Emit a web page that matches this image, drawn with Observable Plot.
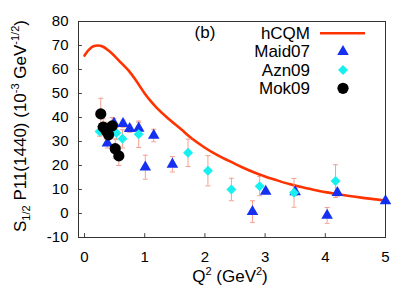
<!DOCTYPE html>
<html><head><meta charset="utf-8">
<script src="https://cdn.jsdelivr.net/npm/d3@7"></script>
<script src="https://cdn.jsdelivr.net/npm/@observablehq/plot@0.6"></script>
<style>body{margin:0;background:#fff} #chart{width:415px;height:291px}</style>
</head><body><div id="chart"></div>
<script>
// hCQM model curve
const hcqmQ2  = [0, 0.05, 0.1, 0.15, 0.22, 0.3, 0.4, 0.5, 0.6, 0.73, 0.85, 1.0, 1.1, 1.2, 1.4, 1.6, 1.8, 2.0, 2.2, 2.4, 2.6, 2.8, 3.0, 3.2, 3.4, 3.6, 3.8, 4.0, 4.2, 4.4, 4.6, 4.8, 5.0];
const hcqmVal = [65.8, 67.6, 68.9, 69.7, 70.0, 69.6, 67.9, 65.6, 63.0, 59.6, 55.6, 50.0, 46.8, 44.0, 39.4, 35.2, 30.9, 27.4, 24.4, 21.9, 19.5, 17.3, 15.4, 13.8, 12.3, 11.0, 9.9, 8.9, 8.1, 7.3, 6.6, 6.0, 5.4];
// Maid07
const maidQ2  = [0.38, 0.49, 0.64, 0.75, 0.90, 1.01, 1.15, 1.46, 2.79, 3.01, 3.50, 4.03, 4.20, 5.00];
const maidVal = [29.3, 37.5, 37.4, 35.3, 35.5, 19.3, 32.5, 20.5, 0.8, 9.2, 9.0, -0.8, 8.7, 5.2];
const maidErr = [2.0, 2.0, 1.5, 1.5, 2.5, 5.0, 2.6, 3.2, 4.5, 1.0, 1.5, 3.3, 1.5, 1.0];
// Azn09
const aznQ2  = [0.25, 0.40, 0.53, 0.63, 0.90, 1.72, 2.05, 2.44, 2.91, 3.48, 4.17];
const aznVal = [34.2, 35.0, 33.5, 31.1, 33.0, 25.3, 17.8, 10.0, 11.4, 8.6, 13.5];
const aznErr = [2.0, 2.5, 2.5, 3.8, 5.5, 5.7, 6.3, 4.7, 4.0, 6.0, 6.8];
// Mok09
const mokQ2  = [0.27, 0.31, 0.36, 0.40, 0.46, 0.51, 0.57];
const mokVal = [41.5, 36.0, 34.5, 32.8, 36.5, 27.0, 24.0];
const mokErr = [6.5, 3.5, 3.5, 3.5, 3.5, 4.0, 4.0];

const xTicks = [0, 1, 2, 3, 4, 5];
const yTicks = [-10, 0, 10, 20, 30, 40, 50, 60, 70, 80];
const seriesNames = ["hCQM", "Maid07", "Azn09", "Mok09"];

const curveColor = "#ff3300", maidColor = "#1530f0", aznColor = "#18f0f0", mokColor = "#000000", errColor = "#f4a090";
const font = "'Liberation Sans', Arial, Helvetica, sans-serif";

const hcqm = hcqmQ2.map((q, i) => ({q, v: hcqmVal[i]}));
const mk = (Q, V, E) => Q.map((q, i) => ({q, v: V[i], lo: V[i] - E[i], hi: V[i] + E[i]}));
const maid = mk(maidQ2, maidVal, maidErr);
const azn = mk(aznQ2, aznVal, aznErr);
const mok = mk(mokQ2, mokVal, mokErr);
const allErr = [...maid, ...azn, ...mok];

const capSymbol = {draw(ctx) { ctx.moveTo(-2.5, 0); ctx.lineTo(2.5, 0); }};

const plot = Plot.plot({
  width: 415, height: 291,
  marginLeft: 78, marginRight: 30, marginTop: 21, marginBottom: 54,
  style: {fontFamily: font, fontSize: "15px", color: "#000", background: "#fff"},
  x: {domain: [-0.1, 5], ticks: xTicks},
  y: {domain: [-10, 80], ticks: yTicks},
  marks: [
    Plot.ruleX(xTicks, {x: d => d, y1: -10, y2: -8.4, stroke: "#444"}),
    Plot.ruleY(yTicks, {y: d => d, x1: -0.1, x2: -0.035, stroke: "#444"}),
    Plot.axisX({ticks: xTicks, tickSize: 0, tickPadding: 14, label: null, tickFormat: d => String(d)}),
    Plot.axisY({ticks: yTicks, tickSize: 0, tickPadding: 10, label: null, tickFormat: d => String(d)}),
    Plot.line(hcqm, {x: "q", y: "v", stroke: curveColor, strokeWidth: 2.6, curve: "monotone-x"}),
    Plot.ruleX(allErr, {x: "q", y1: "lo", y2: "hi", stroke: errColor, strokeWidth: 1}),
    Plot.dot(allErr, {x: "q", y: "lo", symbol: capSymbol, fill: "none", stroke: errColor, strokeWidth: 1}),
    Plot.dot(allErr, {x: "q", y: "hi", symbol: capSymbol, fill: "none", stroke: errColor, strokeWidth: 1}),
    Plot.dot(maid, {x: "q", y: "v", symbol: "triangle", fill: maidColor, r: 4.3}),
    Plot.dot(azn, {x: "q", y: "v", symbol: "diamond2", fill: aznColor, r: 4.5}),
    Plot.dot(mok, {x: "q", y: "v", symbol: "circle", fill: mokColor, r: 5.6}),
    Plot.frame({stroke: "#333"})
  ]
});
document.getElementById("chart").appendChild(plot);

// Legend, panel tag and axis titles with sub/superscripts
const svg = d3.select(plot);
const g = svg.append("g").attr("font-family", font).attr("font-size", 17).attr("fill", "#000");
g.append("text").attr("x", 205).attr("y", 38).text("(b)");
const legY = [39, 57.3, 75.7, 94];
seriesNames.forEach((n, i) => {
  g.append("text").attr("x", 310).attr("y", legY[i]).attr("text-anchor", "end").text(n);
});
g.append("line").attr("x1", 320).attr("x2", 365).attr("y1", 33.3).attr("y2", 33.3).attr("stroke", curveColor).attr("stroke-width", 2.6);
const sym = (type, r) => d3.symbol(type, Math.PI * r * r)();
g.append("path").attr("d", sym(d3.symbolTriangle, 4.3)).attr("transform", "translate(343,51.7)").attr("fill", maidColor);
g.append("path").attr("d", sym(d3.symbolDiamond2, 4.5)).attr("transform", "translate(343,70)").attr("fill", aznColor);
g.append("path").attr("d", sym(d3.symbolCircle, 5.6)).attr("transform", "translate(343,88.3)").attr("fill", mokColor);

// x title
const xt = g.append("text").attr("x", 230).attr("y", 282).attr("text-anchor", "middle").attr("font-size", 17);
xt.append("tspan").text("Q");
xt.append("tspan").attr("dy", -7).attr("font-size", 11).text("2");
xt.append("tspan").attr("dy", 7).text(" (GeV");
xt.append("tspan").attr("dy", -7).attr("font-size", 11).text("2");
xt.append("tspan").attr("dy", 7).text(")");

// y title
const yt = g.append("text").attr("transform", "translate(26,126) rotate(-90)").attr("text-anchor", "middle").attr("font-size", 17);
yt.append("tspan").text("S");
yt.append("tspan").attr("dy", 4).attr("font-size", 11).text("1/2");
yt.append("tspan").attr("dy", -4).text(" P11(1440) (10");
yt.append("tspan").attr("dy", -7).attr("font-size", 11).text("-3");
yt.append("tspan").attr("dy", 7).text(" GeV");
yt.append("tspan").attr("dy", -7).attr("font-size", 11).text("-1/2");
yt.append("tspan").attr("dy", 7).text(")");
</script>
</body></html>
